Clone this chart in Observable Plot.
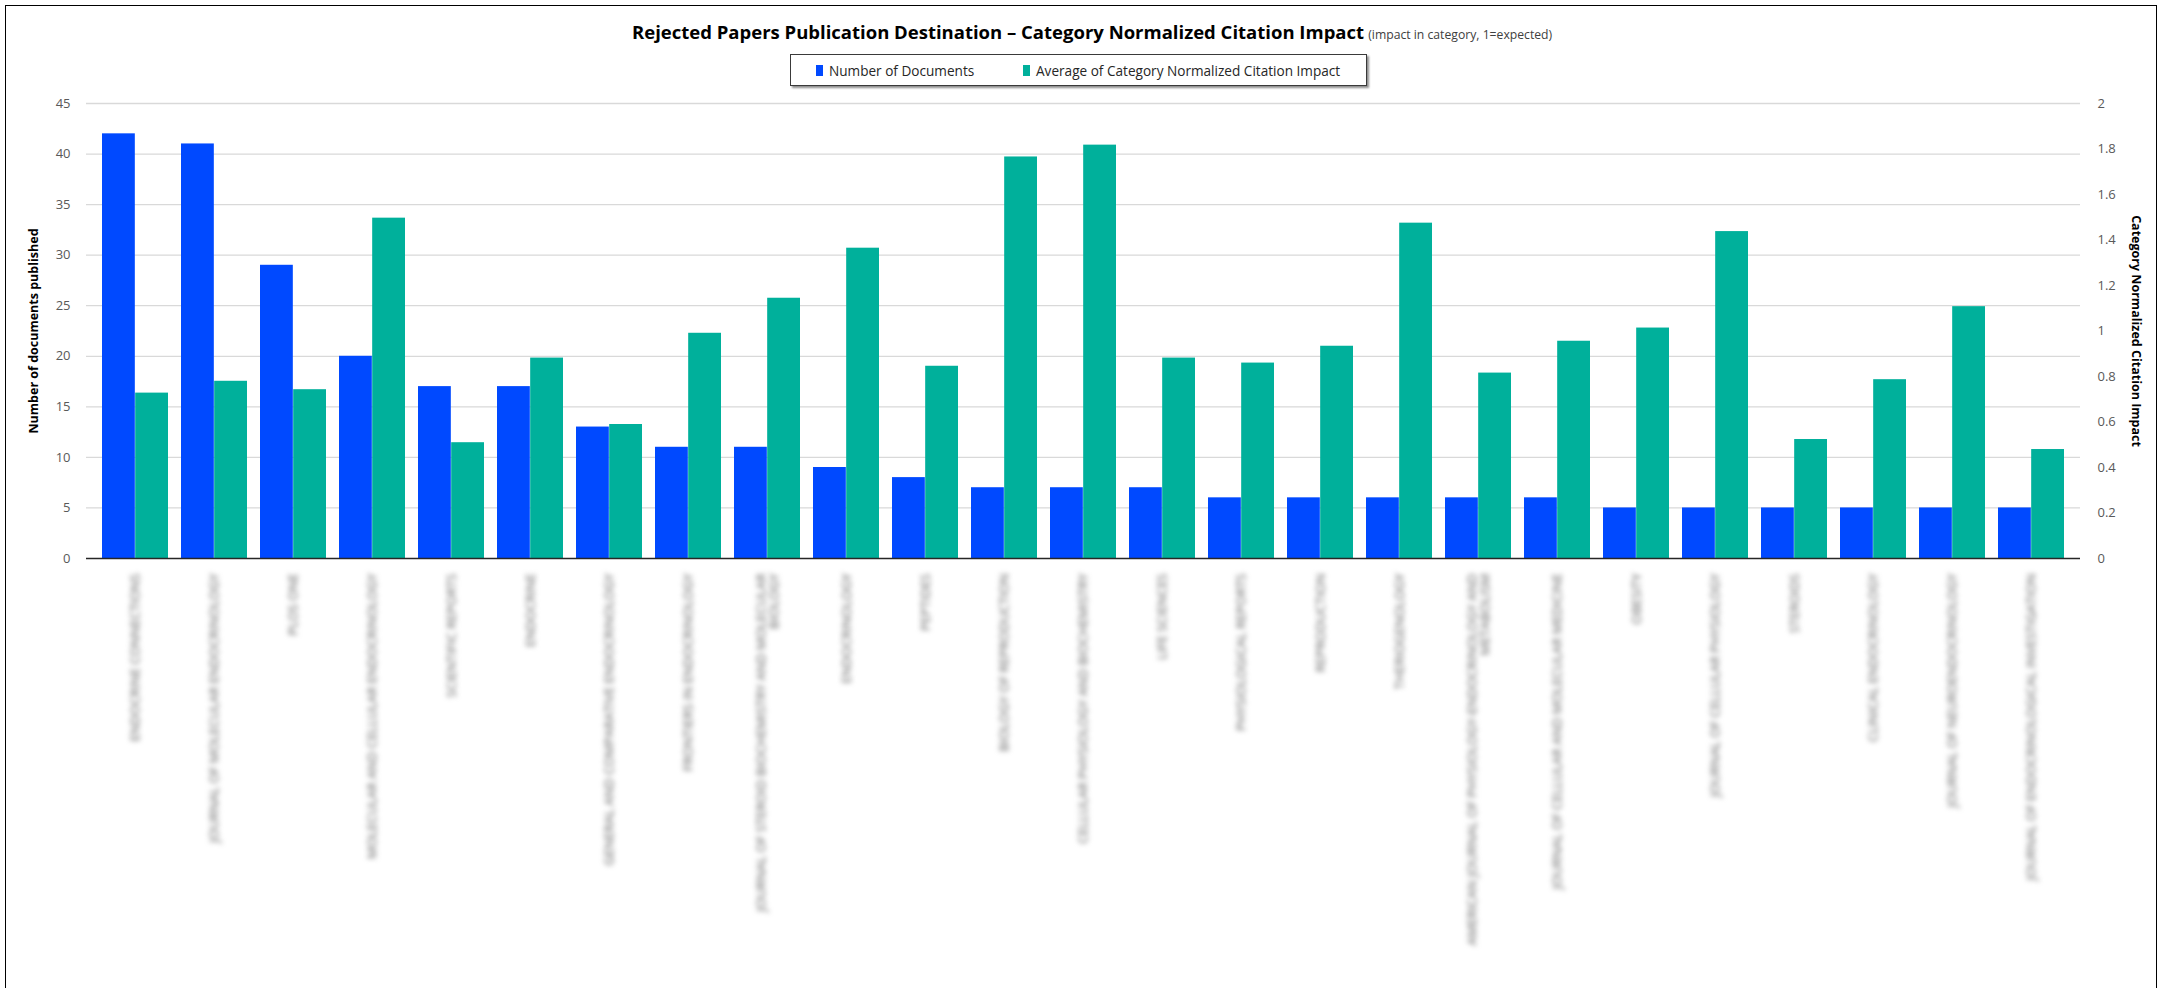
<!DOCTYPE html>
<html>
<head>
<meta charset="utf-8">
<script src="https://cdn.jsdelivr.net/npm/d3@7"></script>
<script src="https://cdn.jsdelivr.net/npm/@observablehq/plot@0.6"></script>
<style>
  html, body { margin: 0; padding: 0; background: #fff; }
  body { width: 2163px; height: 988px; position: relative; overflow: hidden; font-family: "Open Sans", sans-serif; }
  #frame { position: absolute; left: 5px; top: 5px; width: 2152px; height: 1010px; border: 1.5px solid #000; box-sizing: border-box; pointer-events: none; }
  #title { position: absolute; left: 632px; top: 19px; white-space: nowrap; color: #000; }
  #title .main { font-weight: 700; font-size: 18.5px; }
  #title .sub { font-size: 12.2px; color: #404040; }
  #legend { position: absolute; left: 790px; top: 54px; width: 577px; height: 32px; border: 1px solid #3a3a3a; box-shadow: 1.5px 1.5px 2px rgba(0,0,0,0.45); box-sizing: border-box; font-size: 13.6px; color: #262626; }
  #legend .item { display: flex; align-items: center; position: absolute; top: 6px; }
  #legend .sw { width: 7px; height: 11px; margin-right: 6px; }
  #chart { position: absolute; left: 0; top: 90px; }
</style>
</head>
<body>
<div id="title"></div>
<div id="legend"></div>
<div id="chart"></div>
<div id="frame"></div>
<script>
// ---- data ----
const titleText = "Rejected Papers Publication Destination \u2013 Category Normalized Citation Impact";
const subtitleText = "(impact in category, 1=expected)";
const seriesNames = ["Number of Documents", "Average of Category Normalized Citation Impact"];
const seriesColors = ["#0049ff", "#00b09b"];
const leftAxisTitle = "Number of documents published";
const rightAxisTitle = "Category Normalized Citation Impact";

const journals = [
  "ENDOCRINE CONNECTIONS",
  "JOURNAL OF MOLECULAR ENDOCRINOLOGY",
  "PLOS ONE",
  "MOLECULAR AND CELLULAR ENDOCRINOLOGY",
  "SCIENTIFIC REPORTS",
  "ENDOCRINE",
  "GENERAL AND COMPARATIVE ENDOCRINOLOGY",
  "FRONTIERS IN ENDOCRINOLOGY",
  "JOURNAL OF STEROID BIOCHEMISTRY AND MOLECULAR\nBIOLOGY",
  "ENDOCRINOLOGY",
  "PEPTIDES",
  "BIOLOGY OF REPRODUCTION",
  "CELLULAR PHYSIOLOGY AND BIOCHEMISTRY",
  "LIFE SCIENCES",
  "PHYSIOLOGICAL REPORTS",
  "REPRODUCTION",
  "THERIOGENOLOGY",
  "AMERICAN JOURNAL OF PHYSIOLOGY-ENDOCRINOLOGY AND\nMETABOLISM",
  "JOURNAL OF CELLULAR AND MOLECULAR MEDICINE",
  "OBESITY",
  "JOURNAL OF CELLULAR PHYSIOLOGY",
  "STEROIDS",
  "CLINICAL ENDOCRINOLOGY",
  "JOURNAL OF NEUROENDOCRINOLOGY",
  "JOURNAL OF ENDOCRINOLOGICAL INVESTIGATION"
];
const documents = [42, 41, 29, 20, 17, 17, 13, 11, 11, 9, 8, 7, 7, 7, 6, 6, 6, 6, 6, 5, 5, 5, 5, 5, 5];
const citationImpact = [0.727, 0.779, 0.742, 1.496, 0.509, 0.881, 0.589, 0.99, 1.144, 1.364, 0.845, 1.765, 1.817,
  0.881, 0.859, 0.933, 1.474, 0.815, 0.955, 1.013, 1.437, 0.523, 0.786, 1.107, 0.479];

const leftTicks = [0, 5, 10, 15, 20, 25, 30, 35, 40, 45];
const rightTicks = [0, 0.2, 0.4, 0.6, 0.8, 1, 1.2, 1.4, 1.6, 1.8, 2];

// ---- title & legend ----
const t = document.getElementById("title");
t.innerHTML = `<span class="main"></span> <span class="sub"></span>`;
t.querySelector(".main").textContent = titleText;
t.querySelector(".sub").textContent = subtitleText;

const lg = document.getElementById("legend");
const itemLeft = [25, 232];
seriesNames.forEach((name, i) => {
  const it = document.createElement("div");
  it.className = "item";
  it.style.left = itemLeft[i] + "px";
  const sw = document.createElement("span");
  sw.className = "sw";
  sw.style.background = seriesColors[i];
  const tx = document.createElement("span");
  tx.textContent = name;
  it.appendChild(sw); it.appendChild(tx);
  lg.appendChild(it);
});

// ---- chart ----
const leftMax = leftTicks[leftTicks.length - 1];
const rightMax = rightTicks[rightTicks.length - 1];
const k = leftMax / rightMax; // right-axis value -> left scale units

const data = journals.map((j, i) => ({journal: j, docs: documents[i], cnci: citationImpact[i]}));

const W = 2163, H = 898, mL = 86, mR = 83, mT = 13, mB = 430;
const padIn = 0.168, padOut = 0.084;
const step = (W - mL - mR) / (journals.length - padIn + 2 * padOut);
const half = step * (1 - padIn) / 2;

const chart = Plot.plot({
  width: W, height: H,
  marginTop: mT, marginBottom: mB, marginLeft: mL, marginRight: mR,
  style: {fontFamily: "Open Sans, sans-serif", fontSize: "13px", color: "#595959", background: "transparent", overflow: "visible"},
  x: {domain: journals, paddingInner: padIn, paddingOuter: padOut, label: null},
  y: {domain: [0, leftMax], label: null},
  marks: [
    Plot.ruleY(leftTicks.slice(1), {stroke: "#d9d9d9", strokeWidth: 1.3}),
    Plot.barY(data, {x: "journal", y: "docs", fill: seriesColors[0], insetRight: half}),
    Plot.barY(data, {x: "journal", y: d => d.cnci * k, fill: seriesColors[1], insetLeft: half}),
    Plot.ruleY([0], {stroke: "#262626", strokeWidth: 1.5}),
    Plot.axisY(leftTicks, {anchor: "left", tickSize: 0, tickPadding: 16, label: null, fontSize: 13, fill: "#595959"}),
    Plot.axisY(rightTicks.map(v => v * k), {anchor: "right", tickSize: 0, tickPadding: 17, label: null, fontSize: 13, fill: "#595959",
      tickFormat: d => d3.format("~g")(+(d / k).toFixed(2))}),
    Plot.axisX({anchor: "bottom", tickSize: 0, tickPadding: 15, tickRotate: -90, label: null, fontSize: 13, fill: "#5f5f5f", lineAnchor: "middle"}),
    Plot.text([leftAxisTitle], {text: d => d, frameAnchor: "left", dx: -53, rotate: -90, textAnchor: "middle", fontWeight: "bold", fontSize: 12.5, fill: "#000"}),
    Plot.text([rightAxisTitle], {text: d => d, frameAnchor: "right", dx: 55, rotate: 90, textAnchor: "middle", fontWeight: "bold", fontSize: 12.5, fill: "#000"})
  ]
});
document.getElementById("chart").appendChild(chart);
const xl = chart.querySelector('g[aria-label="x-axis tick label"]');
if (xl) xl.style.filter = "blur(2.4px)";
</script>
</body>
</html>
